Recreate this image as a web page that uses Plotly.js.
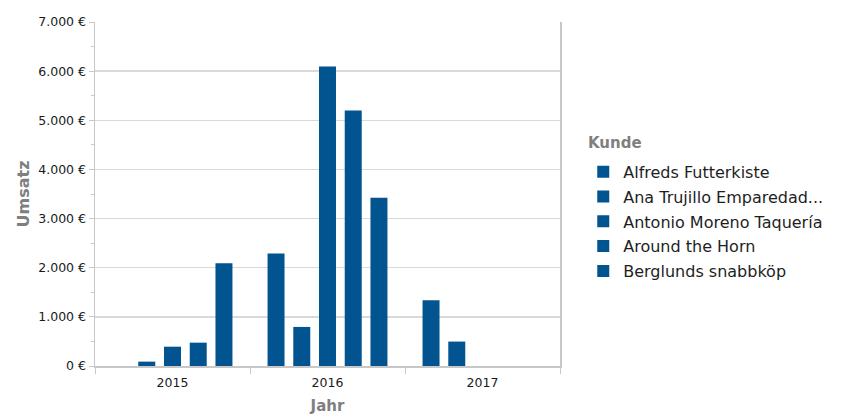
<!DOCTYPE html>
<html><head><meta charset="utf-8">
<script src="https://cdn.plot.ly/plotly-3.0.1.min.js"></script>
<style>html,body{margin:0;padding:0;background:#fff}#chart{width:848px;height:419px}</style>
</head><body><div id="chart"></div>
<script>
const years = ["2015", "2016", "2017"];
const customers = ["Alfreds Futterkiste", "Ana Trujillo Emparedad...", "Antonio Moreno Taquería", "Around the Horn", "Berglunds snabbköp"];
const alfreds = [null, 2291, 1339];
const anaTrujillo = [89, 795, 497];
const antonioMoreno = [393, 6095, null];
const aroundTheHorn = [475, 5198, null];
const berglunds = [2092, 3424, null];
const seriesValues = [alfreds, anaTrujillo, antonioMoreno, aroundTheHorn, berglunds];
const legendTitle = "Kunde";

const barColor = "#01548f";
const traces = customers.map((name, i) => ({
  type: "bar", name: name, x: years, y: seriesValues[i],
  legendgroup: "g" + i,
  marker: {color: barColor, line: {width: 0}},
  hoverinfo: "name+y"
}));

const tickFont = {family: "DejaVu Sans", size: 12.5, color: "#1a1a1a"};
const layout = {
  width: 848, height: 419,
  margin: {l: 95, r: 288, t: 22, b: 53},
  paper_bgcolor: "#fff", plot_bgcolor: "#fff",
  separators: ",.",
  barmode: "group", bargap: 0.17, bargroupgap: 0.34,
  font: {family: "DejaVu Sans, sans-serif", color: "#333", size: 12},
  xaxis: {
    type: "category", tickson: "boundaries", ticks: "outside", ticklen: 6, tickcolor: "#c8c8c8",
    showline: true, linecolor: "#c8c8c8", linewidth: 1.5, showgrid: false,
    tickfont: tickFont, ticklabelstandoff: 4,
    title: {text: "<b>Jahr</b>", font: {family: "DejaVu Sans", size: 15, color: "#7f7f7f"}, standoff: 12}
  },
  yaxis: {
    range: [0, 7000], dtick: 1000, tickformat: ",.0f", ticksuffix: " €",
    ticks: "outside", ticklen: 5, tickcolor: "#c8c8c8",
    showline: true, linecolor: "#c8c8c8", linewidth: 1.5, mirror: true,
    showgrid: true, gridcolor: "#d9d9d9", gridwidth: 1.5, zeroline: false,
    minor: {dtick: 500, ticks: "outside", ticklen: 3, tickcolor: "#c8c8c8", showgrid: false},
    tickfont: tickFont,
    title: {text: "<b>Umsatz</b>", font: {family: "DejaVu Sans", size: 16, color: "#7f7f7f"}, standoff: 4}
  },
  legend: {
    x: 1.05, xanchor: "left", y: 0.614, yanchor: "top",
    font: {family: "DejaVu Sans", size: 16, color: "#1e1e1e"},
    itemwidth: 30, traceorder: "grouped", tracegroupgap: 1
  },
  annotations: [{
    text: "<b>" + legendTitle + "</b>", xref: "paper", yref: "paper",
    x: 1.056, y: 0.648, xanchor: "left", yanchor: "middle", showarrow: false,
    font: {family: "DejaVu Sans", size: 15, color: "#7f7f7f"}
  }],
  showlegend: true
};
Plotly.newPlot("chart", traces, layout, {displayModeBar: false, staticPlot: true});
</script></body></html>
